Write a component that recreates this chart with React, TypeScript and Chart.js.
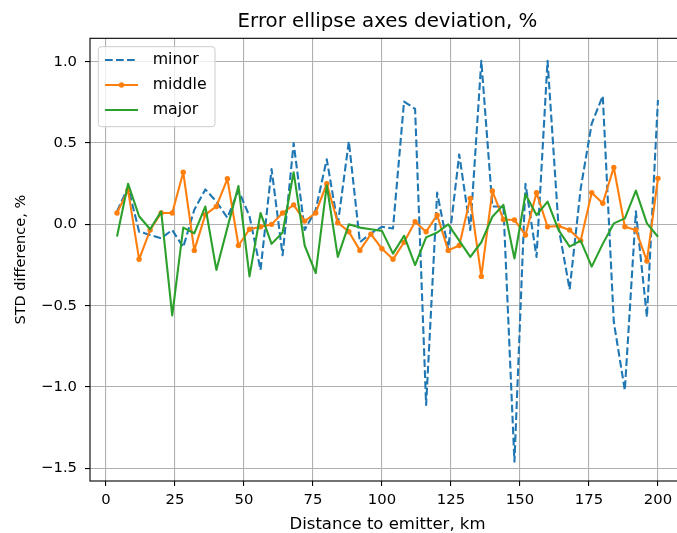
import React, { useEffect, useRef } from "react";
import { Chart, registerables } from "chart.js";

Chart.register(...registerables);

const chartTitle = "Error ellipse axes deviation, %";
const xAxisLabel = "Distance to emitter, km";
const yAxisLabel = "STD difference, %";

const distanceKm = [4, 8, 12, 16, 20, 24, 28, 32, 36, 40, 44, 48, 52, 56, 60, 64, 68, 72, 76, 80, 84, 88, 92, 96, 100, 104, 108, 112, 116, 120, 124, 128, 132, 136, 140, 144, 148, 152, 156, 160, 164, 168, 172, 176, 180, 184, 188, 192, 196, 200];

const minorDev = [0.08, 0.23, -0.045, -0.065, -0.085, -0.035, -0.14, 0.09, 0.215, 0.14, 0.04, 0.21, 0.05, -0.28, 0.34, -0.19, 0.5, -0.035, 0.09, 0.4, 0.0, 0.51, -0.11, -0.055, -0.015, -0.025, 0.755, 0.71, -1.11, 0.195, -0.15, 0.43, -0.035, 1.006, 0.11, 0.11, -1.46, 0.25, -0.2, 1.006, -0.02, -0.4, 0.22, 0.62, 0.79, -0.6, -1.02, 0.08, -0.57, 0.765];

const middleDev = [0.07, 0.21, -0.215, -0.035, 0.07, 0.07, 0.32, -0.16, 0.06, 0.11, 0.28, -0.13, -0.03, -0.015, 0.0, 0.07, 0.12, 0.02, 0.07, 0.25, 0.01, -0.045, -0.16, -0.06, -0.15, -0.215, -0.11, 0.016, -0.045, 0.057, -0.16, -0.13, 0.16, -0.32, 0.205, 0.03, 0.027, -0.065, 0.195, -0.015, -0.01, -0.035, -0.1, 0.195, 0.13, 0.35, -0.015, -0.035, -0.225, 0.283];

const majorDev = [-0.075, 0.25, 0.05, -0.03, 0.08, -0.56, -0.02, -0.055, 0.11, -0.28, -0.02, 0.235, -0.32, 0.07, -0.12, -0.05, 0.32, -0.13, -0.3, 0.24, -0.2, 0.0, -0.02, -0.03, -0.04, -0.18, -0.07, -0.25, -0.08, -0.05, 0.0, -0.1, -0.2, -0.11, 0.047, 0.12, -0.21, 0.185, 0.057, 0.14, -0.035, -0.137, -0.1, -0.26, -0.12, 0.006, 0.037, 0.207, 0.006, -0.076];

const seriesNames = ["minor", "middle", "major"];
const seriesColors = ["#1f77b4", "#ff7f0e", "#2ca02c"];

const xTickValues = [0, 25, 50, 75, 100, 125, 150, 175, 200];
const xTickLabels = ["0", "25", "50", "75", "100", "125", "150", "175", "200"];
const yTickValues = [-1.5, -1.0, -0.5, 0.0, 0.5, 1.0];
const yTickLabels = ["\u22121.5", "\u22121.0", "\u22120.5", "0.0", "0.5", "1.0"];

const FONT = '"DejaVu Sans", sans-serif';
const LINE_W = 2.1;
const DASH = [7.7, 3.3];

const overlayPlugin = {
  id: "overlay",
  afterDatasetsDraw(chart: any) {
    const { ctx, chartArea: a } = chart;
    ctx.save();
    ctx.strokeStyle = "#000";
    ctx.lineWidth = 1.1;
    ctx.strokeRect(a.left, a.top, a.right - a.left, a.bottom - a.top);
    ctx.restore();
  },
  afterDraw(chart: any) {
    const { ctx, chartArea: a } = chart;
    ctx.save();
    // title
    ctx.fillStyle = "#000";
    ctx.font = `19.8px ${FONT}`;
    ctx.textAlign = "center";
    ctx.textBaseline = "alphabetic";
    ctx.fillText(chartTitle, (a.left + a.right) / 2, 26.5);

    // legend
    const bx = 98.3, by = 46.7, bw = 116.7, bh = 80, r = 3;
    ctx.beginPath();
    ctx.moveTo(bx + r, by);
    ctx.lineTo(bx + bw - r, by);
    ctx.arcTo(bx + bw, by, bx + bw, by + r, r);
    ctx.lineTo(bx + bw, by + bh - r);
    ctx.arcTo(bx + bw, by + bh, bx + bw - r, by + bh, r);
    ctx.lineTo(bx + r, by + bh);
    ctx.arcTo(bx, by + bh, bx, by + bh - r, r);
    ctx.lineTo(bx, by + r);
    ctx.arcTo(bx, by, bx + r, by, r);
    ctx.closePath();
    ctx.fillStyle = "rgba(255,255,255,0.8)";
    ctx.fill();
    ctx.strokeStyle = "#cccccc";
    ctx.lineWidth = 1;
    ctx.stroke();

    const rows = [60, 85, 110];
    seriesNames.forEach((name, i) => {
      const y = rows[i];
      ctx.strokeStyle = seriesColors[i];
      ctx.lineWidth = LINE_W;
      ctx.setLineDash(i === 0 ? DASH : []);
      ctx.beginPath();
      ctx.moveTo(105, y);
      ctx.lineTo(138, y);
      ctx.stroke();
      ctx.setLineDash([]);
      if (i === 1) {
        ctx.fillStyle = seriesColors[i];
        ctx.beginPath();
        ctx.arc(121.5, y, 2.7, 0, Math.PI * 2);
        ctx.fill();
      }
      ctx.fillStyle = "#000";
      ctx.font = `15.8px ${FONT}`;
      ctx.textAlign = "left";
      ctx.textBaseline = "middle";
      ctx.fillText(name, 152.7, y);
    });
    ctx.restore();
  },
};

export default function App() {
  const canvasRef = useRef<HTMLCanvasElement | null>(null);

  useEffect(() => {
    if (!canvasRef.current) return;
    const mk = (vals: number[]) => distanceKm.map((d, i) => ({ x: d, y: vals[i] }));
    const chart = new Chart(canvasRef.current, {
      type: "line",
      data: {
        datasets: [
          {
            label: seriesNames[0],
            data: mk(minorDev),
            borderColor: seriesColors[0],
            borderWidth: LINE_W,
            borderDash: DASH,
            borderJoinStyle: "round",
            pointRadius: 0,
            pointHoverRadius: 0,
            fill: false,
            tension: 0,
            order: 3,
          },
          {
            label: seriesNames[1],
            data: mk(middleDev),
            borderColor: seriesColors[1],
            backgroundColor: seriesColors[1],
            borderWidth: LINE_W,
            borderJoinStyle: "round",
            pointRadius: 2.7,
            pointBorderWidth: 0,
            pointBackgroundColor: seriesColors[1],
            pointHoverRadius: 2.7,
            fill: false,
            tension: 0,
            order: 2,
          },
          {
            label: seriesNames[2],
            data: mk(majorDev),
            borderColor: seriesColors[2],
            borderWidth: LINE_W,
            borderJoinStyle: "round",
            pointRadius: 0,
            pointHoverRadius: 0,
            fill: false,
            tension: 0,
            order: 1,
          },
        ],
      },
      options: {
        animation: false,
        responsive: false,
        events: [],
        layout: { padding: { top: 38.3, left: 0, right: 5, bottom: 0 } },
        plugins: {
          legend: { display: false },
          title: { display: false },
          tooltip: { enabled: false },
        },
        scales: {
          x: {
            type: "linear",
            min: -5.79,
            max: 209.8,
            afterBuildTicks: (scale: any) => {
              scale.ticks = xTickValues.map((v) => ({ value: v }));
            },
            afterFit: (scale: any) => {
              scale.height = 52;
            },
            ticks: {
              autoSkip: false,
              maxRotation: 0,
              padding: 5.1,
              color: "#000",
              font: { family: FONT, size: 14.8 },
              callback: (v: any) => {
                const i = xTickValues.indexOf(Number(v));
                return i >= 0 ? xTickLabels[i] : "";
              },
            },
            grid: {
              color: "#b0b0b0",
              lineWidth: 1.1,
              tickLength: 5,
              tickColor: "#000",
              tickWidth: 1.1,
            },
            border: { display: false },
            title: {
              display: true,
              text: xAxisLabel,
              color: "#000",
              font: { family: FONT, size: 16.5, lineHeight: 1 },
              padding: { top: 0, bottom: 0.5 },
            },
          },
          y: {
            type: "linear",
            min: -1.578,
            max: 1.144,
            afterBuildTicks: (scale: any) => {
              scale.ticks = yTickValues.map((v) => ({ value: v }));
            },
            afterFit: (scale: any) => {
              scale.width = 90;
            },
            ticks: {
              autoSkip: false,
              padding: 8,
              color: "#000",
              font: { family: FONT, size: 14.8 },
              callback: (v: any) => {
                const i = yTickValues.findIndex((t) => Math.abs(t - Number(v)) < 1e-9);
                return i >= 0 ? yTickLabels[i] : "";
              },
            },
            grid: {
              color: "#b0b0b0",
              lineWidth: 1.1,
              tickLength: 5,
              tickColor: "#000",
              tickWidth: 1.1,
            },
            border: { display: false },
            title: {
              display: true,
              text: yAxisLabel,
              color: "#000",
              font: { family: FONT, size: 14.5, lineHeight: 1 },
              padding: { top: 14.25, bottom: 0 },
            },
          },
        },
      },
      plugins: [overlayPlugin],
    } as any);
    return () => chart.destroy();
  }, []);

  return (
    <div
      style={{
        position: "fixed",
        left: 0,
        top: 0,
        width: 677,
        height: 533,
        overflow: "hidden",
        background: "#fff",
      }}
    >
      <canvas ref={canvasRef} width={690} height={533} style={{ width: 690, height: 533, display: "block" }} />
    </div>
  );
}
